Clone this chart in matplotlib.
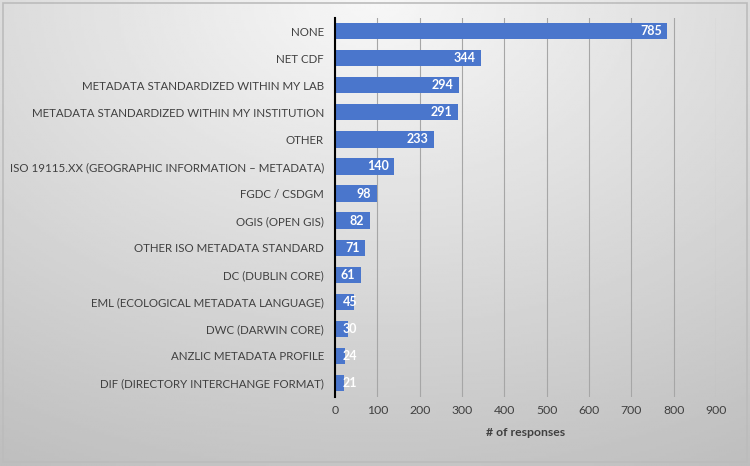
import numpy as np
import matplotlib.pyplot as plt

categories = [
    "NONE",
    "NET CDF",
    "METADATA STANDARDIZED WITHIN MY LAB",
    "METADATA STANDARDIZED WITHIN MY INSTITUTION",
    "OTHER",
    "ISO 19115.XX (GEOGRAPHIC INFORMATION \u2013 METADATA)",
    "FGDC / CSDGM",
    "OGIS (OPEN GIS)",
    "OTHER ISO METADATA STANDARD",
    "DC (DUBLIN CORE)",
    "EML (ECOLOGICAL METADATA LANGUAGE)",
    "DWC (DARWIN CORE)",
    "ANZLIC METADATA PROFILE",
    "DIF (DIRECTORY INTERCHANGE FORMAT)",
]
responses = [785, 344, 294, 291, 233, 140, 98, 82, 71, 61, 45, 30, 24, 21]
xticks = [0, 100, 200, 300, 400, 500, 600, 700, 800, 900]

plt.rcParams['font.family'] = ['Lato', 'DejaVu Sans']

fig = plt.figure(figsize=(7.5, 4.66), dpi=100)

# gradient background
bg = fig.add_axes([0, 0, 1, 1])
gx, gy = np.meshgrid(np.linspace(0, 1, 300), np.linspace(0, 1, 200))
d = np.sqrt(((gx - 0.5) * 1.0) ** 2 + (gy * 0.9) ** 2)
shade = 0.97 - 0.22 * np.clip(d, 0, 1.1)
bg.imshow(shade, cmap='gray', vmin=0, vmax=1, extent=[0, 1, 0, 1],
          aspect='auto', origin='upper')
bg.add_patch(plt.Rectangle((0.004, 0.008), 0.992, 0.986, fill=False,
                           edgecolor='#bcbcbc', lw=1.2))
bg.set_xlim(0, 1)
bg.set_ylim(0, 1)
bg.axis('off')

ax = fig.add_axes([0.4467, 0.149, 0.508, 0.8133])
ax.patch.set_alpha(0)
y = np.arange(len(categories))
ax.barh(y, responses, height=0.6, color='#4a76cc', zorder=3)
ax.set_ylim(len(categories) - 0.5, -0.5)
ax.set_xlim(0, 900)
ax.set_yticks(y)
ax.set_yticklabels(categories, fontsize=8.3, color='#404040')
ax.set_xticks(xticks)
ax.set_xticklabels([str(t) for t in xticks], fontsize=8.8, color='#404040')
ax.tick_params(axis='y', length=0, pad=8)
ax.tick_params(axis='x', length=0, pad=6)
ax.grid(axis='x', color='#a6a6a6', lw=0.8, zorder=0)
for s in ['top', 'right', 'bottom']:
    ax.spines[s].set_visible(False)
ax.spines['left'].set_color('black')
ax.spines['left'].set_linewidth(1.5)
ax.spines['left'].set_zorder(4)
ax.set_xlabel("# of responses", fontsize=8.8, color='#404040',
              fontweight='bold', labelpad=8)

for yi, v in zip(y, responses):
    if v >= 50:
        ax.annotate(str(v), (v, yi), xytext=(-4, 0), textcoords='offset points',
                    ha='right', va='center', color='white', fontsize=9,
                    fontweight='bold', zorder=5)
    else:
        ax.annotate(str(v), (0, yi), xytext=(5.5, 0), textcoords='offset points',
                    ha='left', va='center', color='white', fontsize=9,
                    fontweight='bold', zorder=5)

fig.savefig('out.png', dpi=100)
